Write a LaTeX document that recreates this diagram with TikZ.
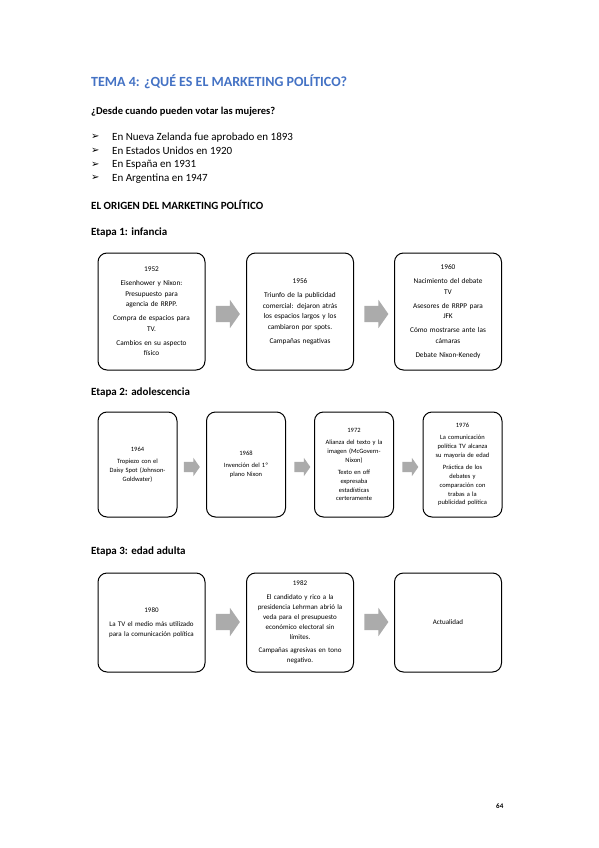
\documentclass[tikz,border=0pt]{standalone}
\usepackage{fontspec}
\usepackage{xcolor}
\setmainfont{Carlito}
\newfontfamily\SymFont{DejaVu Sans}
\usetikzlibrary{shapes.arrows}
\definecolor{TitleBlue}{HTML}{4472C4}
\colorlet{ArrowGray}{black!33}
\newcommand{\Gap}{\\[3.5pt]}

\begin{document}
\begin{tikzpicture}[x=1pt, y=-1pt,
		heading/.style={anchor=west, inner sep=0pt, font=\bfseries\fontsize{11}{13}\selectfont},
		item/.style={anchor=west, inner sep=0pt, font=\fontsize{11}{13}\selectfont},
		etapa/.style={draw, line width=1pt, rounded corners=9pt, align=center, inner xsep=3pt},
		bigbox/.style={etapa, text width=101pt, minimum height=117pt, font=\fontsize{7.3}{10.5}\selectfont},
		smallbox/.style={etapa, text width=73pt, minimum height=105pt, font=\fontsize{6.5}{8.8}\selectfont},
		lowbox/.style={etapa, text width=101pt, minimum height=99pt, font=\fontsize{7}{10}\selectfont},
		flecha/.style={single arrow, fill=ArrowGray, draw=none, inner xsep=0pt, inner ysep=8pt,
			minimum height=24pt, single arrow head extend=6pt, single arrow tip angle=110},
		flechita/.style={flecha, inner ysep=5pt, minimum height=16pt, single arrow head extend=4pt}]
		\useasboundingbox (0,0) rectangle (599,848);
		
		\node[heading, text=TitleBlue, font=\bfseries\fontsize{14}{16}\selectfont] (titulo) at (91,82) {TEMA 4: ¿QUÉ ES EL MARKETING POLÍTICO?};
		\node[heading, font=\bfseries\fontsize{10.5}{12}\selectfont] (pregunta) at (91,112) {¿Desde cuando pueden votar las mujeres?};
		
		\foreach \texto [count=\i] in {En Nueva Zelanda fue aprobado en 1893, En Estados Unidos en 1920, En España en 1931, En Argentina en 1947}{
			\pgfmathsetmacro{\yy}{123.5 + 13.7*\i}
			\node[item, font=\SymFont\fontsize{10}{12}\selectfont] (vineta\i) at (91,\yy) {➢};
			\node[item] (pais\i) at (112,\yy) {\texto};
		}
		
		\node[heading] (origen) at (91,205) {EL ORIGEN DEL MARKETING POLÍTICO};
		
		\node[heading] (etapa1) at (91,233) {Etapa 1: infancia};
		\node[bigbox] (e1a) at (151.5,311.5) {1952\Gap Eisenhower y Nixon:\\ Presupuesto para\\ agencia de RRPP.\Gap Compra de espacios para\\ TV.\Gap Cambios en su aspecto\\ físico};
		\node[bigbox] (e1b) at (300,311.5) {1956\Gap Triunfo de la publicidad\\ comercial: dejaron atrás\\ los espacios largos y los\\ cambiaron por spots.\Gap Campañas negativas};
		\node[bigbox] (e1c) at (448,311.5) {1960\Gap Nacimiento del debate\\ TV\Gap Asesores de RRPP para\\ JFK\Gap Cómo mostrarse ante las\\ cámaras\Gap Debate Nixon-Kenedy};
		\node[flecha] (f1a) at (225,314) {};
		\node[flecha] (f1b) at (373.5,314) {};
		
		\node[heading] (etapa2) at (91,393) {Etapa 2: adolescencia};
		\node[smallbox] (e2a) at (137.5,464.5) {1964\Gap Tropiezo con el\\ Daisy Spot (Johnson-\\ Goldwater)};
		\node[smallbox] (e2b) at (246,464.5) {1968\Gap Invención del 1º\\ plano Nixon};
		\node[smallbox] (e2c) at (354,464.5) {1972\Gap Alianza del texto y la\\ imagen (McGovern-\\ Nixon)\Gap Texto en off\\ expresaba\\ estadísticas\\ certeramente};
		\node[smallbox] (e2d) at (462.5,464.5) {1976\Gap La comunicación\\ política TV alcanza\\ su mayoría de edad\Gap Práctica de los\\ debates y\\ comparación con\\ trabas a la\\ publicidad política};
		\node[flechita] (f2a) at (190,467) {};
		\node[flechita] (f2b) at (300.5,467) {};
		\node[flechita] (f2c) at (408.5,467) {};
		
		\node[heading] (etapa3) at (91,551) {Etapa 3: edad adulta};
		\node[lowbox] (e3a) at (151.5,622.5) {1980\Gap La TV el medio más utilizado\\ para la comunicación política};
		\node[lowbox] (e3b) at (300,622.5) {1982\Gap El candidato y rico a la\\ presidencia Lehrman abrió la\\ veda para el presupuesto\\ económico electoral sin\\ límites.\Gap Campañas agresivas en tono\\ negativo.};
		\node[lowbox] (e3c) at (448,622.5) {Actualidad};
		\node[flecha] (f3a) at (225,622) {};
		\node[flecha] (f3b) at (373.5,622) {};
		
		\node[heading, font=\bfseries\fontsize{7}{8}\selectfont] (pagina) at (496,806) {64};
	\end{tikzpicture}
\end{document}
